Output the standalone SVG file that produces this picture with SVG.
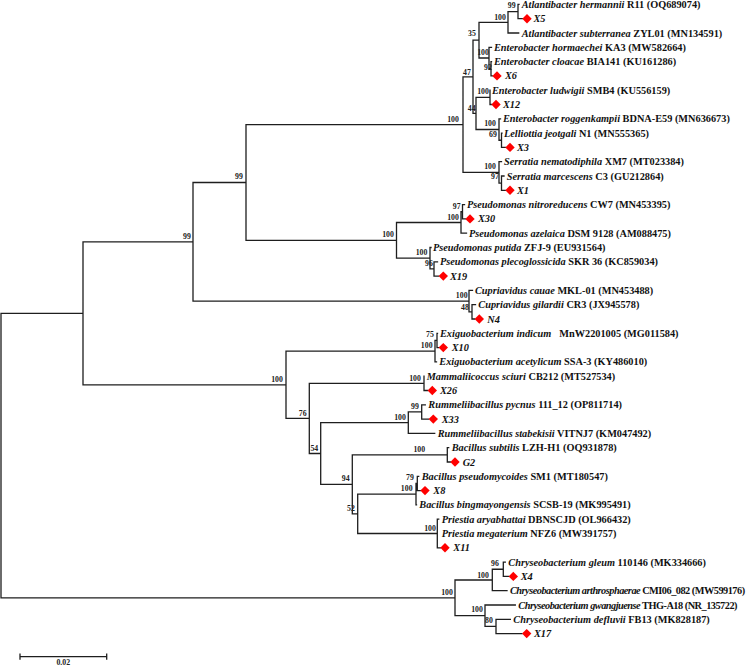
<svg xmlns="http://www.w3.org/2000/svg" xmlns:xlink="http://www.w3.org/1999/xlink" width="748" height="666" viewBox="0 0 748 666">
<style>
.br{fill:none;stroke:#1e1e1e;stroke-width:1.3;stroke-linecap:square}
.lf{font-family:"Liberation Serif","Times New Roman",serif;font-size:10.3px;font-weight:bold;fill:#111}
.sp{font-style:italic}
.xs{font-style:italic}
.nw{letter-spacing:-0.5px}
.bs{font-family:"Liberation Serif","Times New Roman",serif;font-size:7.8px;font-weight:bold;text-anchor:middle;fill:#222}
.dm{fill:#ff0000}
</style>
<defs>
<path id="dm" d="M0,-4.7L4.7,0L0,4.7L-4.7,0Z"/>
</defs>
<rect width="748" height="666" fill="#fff"/>
<g id="connectors">
<path class="br" d="M1,313.3V597.85 M1,313.3H83 M1,597.85H455
M83,241.8V384.8 M83,241.8H193 M83,384.8H286
M193,182.5V301.1 M193,182.5H246 M193,301.1H469
M246,124.6V240.35 M246,124.6H463 M246,240.35H396.5
M463,76.8V172.4 M463,76.8H473 M463,172.4H499
M473,40.1V113.4 M473,40.1H479 M473,113.4H476
M479,22.3V58 M479,22.3H508 M479,58H489
M508,11.55V33 M508,11.55H518 M508,33H518.7
M518,4.4V18.7 M518,4.4H519 M518,18.7H522.3
M489,47.3V68.75 M489,47.3H491.5 M489,68.75H491
M491,61.6V75.9 M491,61.6H491.5 M491,75.9H492.3
M476,97.35V129.5 M476,97.35H490 M476,129.5H499
M490,90.2V104.5 M490,104.5H491.3
M499,118.8V140.25 M499,118.8H500.5 M499,140.25H501.5
M501.5,133.1V147.4 M501.5,133.1H502 M501.5,147.4H505.3
M499,161.7V183.15 M499,161.7H501.5 M499,183.15H501.5
M501.5,176V190.3 M501.5,176H504 M501.5,190.3H505.3
M396.5,222.5V258.2 M396.5,222.5H461 M396.5,258.2H430
M461,211.75V233.2 M461,211.75H462.5 M461,233.2H466.5
M462.5,204.6V218.9 M462.5,204.6H464.5 M462.5,218.9H465.3
M430,247.5V268.95 M430,247.5H431 M430,268.95H434
M434,261.8V276.1 M434,261.8H437.5 M434,276.1H438.6
M469,290.4V311.85 M469,290.4H472.5 M469,311.85H472
M472,304.7V319 M472,304.7H475.5 M472,319H474.6
M286,351.2V418.4 M286,351.2H435 M286,418.4H309.3
M435,340.45V361.9 M435,340.45H437 M435,361.9H436.5
M437,333.3V347.6 M437,333.3H437.5 M437,347.6H438.6
M309.3,383.35V453.5 M309.3,383.35H424 M309.3,453.5H320.7
M424,376.2V390.5 M424,390.5H427.6
M320.7,422.7V484.35 M320.7,422.7H408.3 M320.7,484.35H352.3
M408.3,411.95V433.4 M408.3,411.95H421.7 M408.3,433.4H434.7
M421.7,404.8V419.1 M421.7,404.8H425.3 M421.7,419.1H428.6
M352.3,454.85V513.85 M352.3,454.85H447.3 M352.3,513.85H357.7
M447.3,447.7V462 M447.3,447.7H448.7 M447.3,462H450.3
M357.7,494.2V533.5 M357.7,494.2H416 M357.7,533.5H437.3
M416,483.45V504.9 M416,483.45H417.3 M416,504.9H416.5
M417.3,476.3V490.6 M417.3,476.3H418.7 M417.3,490.6H420.3
M437.3,519.2V547.8 M437.3,519.2H438.7 M437.3,547.8H440.3
M455,580V615.7 M455,580H492.3 M455,615.7H485
M492.3,569.25V590.7 M492.3,569.25H503.3 M492.3,590.7H507
M503.3,562.1V576.4 M503.3,562.1H505.3 M503.3,576.4H508.6
M485,605V626.45 M485,605H515.3 M485,626.45H496
M496,619.3V633.6 M496,619.3H510.3 M496,633.6H522"/>
</g>
<g id="bootstrap">
<text class="bs" x="511.7" y="7.8">99</text>
<text class="bs" x="500" y="19.5">100</text>
<text class="bs" x="472" y="36.3">35</text>
<text class="bs" x="483" y="54.8">100</text>
<text class="bs" x="488" y="69.8">92</text>
<text class="bs" x="467" y="74.5">47</text>
<text class="bs" x="483" y="93.8">100</text>
<text class="bs" x="471.7" y="110.8">44</text>
<text class="bs" x="490" y="125.8">100</text>
<text class="bs" x="493" y="136.8">69</text>
<text class="bs" x="453" y="121.8">100</text>
<text class="bs" x="490" y="168.8">100</text>
<text class="bs" x="495" y="178.8">97</text>
<text class="bs" x="456.7" y="208.5">97</text>
<text class="bs" x="453" y="219.5">100</text>
<text class="bs" x="388" y="236.8">100</text>
<text class="bs" x="421.5" y="255.3">100</text>
<text class="bs" x="429" y="265.8">96</text>
<text class="bs" x="239" y="178.8">99</text>
<text class="bs" x="461.7" y="297.8">100</text>
<text class="bs" x="465" y="309.5">48</text>
<text class="bs" x="187" y="238.8">99</text>
<text class="bs" x="426.7" y="347.8">100</text>
<text class="bs" x="430" y="337.1">75</text>
<text class="bs" x="277" y="381.8">100</text>
<text class="bs" x="415" y="380.5">100</text>
<text class="bs" x="415" y="408.8">99</text>
<text class="bs" x="400" y="419.5">100</text>
<text class="bs" x="302.7" y="415.5">76</text>
<text class="bs" x="314.3" y="450.5">54</text>
<text class="bs" x="419.3" y="452.1">100</text>
<text class="bs" x="410" y="479.5">79</text>
<text class="bs" x="406.7" y="491.1">100</text>
<text class="bs" x="345.7" y="481.1">94</text>
<text class="bs" x="351" y="510.5">52</text>
<text class="bs" x="430" y="530.5">100</text>
<text class="bs" x="495" y="565.5">96</text>
<text class="bs" x="483" y="577.5">100</text>
<text class="bs" x="477" y="611.8">100</text>
<text class="bs" x="489" y="622.8">80</text>
<text class="bs" x="447" y="594.8">100</text>
</g>
<g id="leaf-OQ689074"><text class="lf" x="521.7" y="7.9"><tspan class="sp">Atlantibacter hermannii</tspan> R11 (OQ689074)</text></g>
<g id="leaf-X5"><use href="#dm" class="dm" x="527" y="18.7"/><text class="lf xs" x="533.5" y="22.2">X5</text></g>
<g id="leaf-MN134591"><text class="lf" x="521.7" y="36.5"><tspan class="sp">Atlantibacter subterranea</tspan> ZYL01 (MN134591)</text></g>
<g id="leaf-MW582664"><text class="lf" x="494" y="50.8"><tspan class="sp">Enterobacter hormaechei</tspan> KA3 (MW582664)</text></g>
<g id="leaf-KU161286"><text class="lf" x="494" y="65.1"><tspan class="sp">Enterobacter cloacae</tspan> BIA141 (KU161286)</text></g>
<g id="leaf-X6"><use href="#dm" class="dm" x="497" y="75.9"/><text class="lf xs" x="505" y="79.4">X6</text></g>
<g id="leaf-KU556159"><text class="lf" x="492" y="93.7"><tspan class="sp">Enterobacter ludwigii</tspan> SMB4 (KU556159)</text></g>
<g id="leaf-X12"><use href="#dm" class="dm" x="496" y="104.5"/><text class="lf xs" x="503" y="108">X12</text></g>
<g id="leaf-MN636673"><text class="lf" x="503" y="122.3"><tspan class="sp">Enterobacter roggenkampii</tspan> BDNA-E59 (MN636673)</text></g>
<g id="leaf-MN555365"><text class="lf" x="504" y="136.6"><tspan class="sp">Lelliottia jeotgali</tspan> N1 (MN555365)</text></g>
<g id="leaf-X3"><use href="#dm" class="dm" x="510" y="147.4"/><text class="lf xs" x="517" y="150.9">X3</text></g>
<g id="leaf-MT023384"><text class="lf" x="504" y="165.2"><tspan class="sp">Serratia nematodiphila</tspan> XM7 (MT023384)</text></g>
<g id="leaf-GU212864"><text class="lf" x="506.7" y="179.5"><tspan class="sp">Serratia marcescens</tspan> C3 (GU212864)</text></g>
<g id="leaf-X1"><use href="#dm" class="dm" x="510" y="190.3"/><text class="lf xs" x="517" y="193.8">X1</text></g>
<g id="leaf-MN453395"><text class="lf" x="467" y="208.1"><tspan class="sp">Pseudomonas nitroreducens</tspan> CW7 (MN453395)</text></g>
<g id="leaf-X30"><use href="#dm" class="dm" x="470" y="218.9"/><text class="lf xs" x="478" y="222.4">X30</text></g>
<g id="leaf-AM088475"><text class="lf" x="469" y="236.7"><tspan class="sp">Pseudomonas azelaica</tspan> DSM 9128 (AM088475)</text></g>
<g id="leaf-EU931564"><text class="lf" x="433" y="251"><tspan class="sp">Pseudomonas putida</tspan> ZFJ-9 (EU931564)</text></g>
<g id="leaf-KC859034"><text class="lf" x="440" y="265.3"><tspan class="sp">Pseudomonas plecoglossicida</tspan> SKR 36 (KC859034)</text></g>
<g id="leaf-X19"><use href="#dm" class="dm" x="443.3" y="276.1"/><text class="lf xs" x="450" y="279.6">X19</text></g>
<g id="leaf-MN453488"><text class="lf" x="475" y="293.9"><tspan class="sp">Cupriavidus cauae</tspan> MKL-01 (MN453488)</text></g>
<g id="leaf-JX945578"><text class="lf" x="478.3" y="308.2"><tspan class="sp">Cupriavidus gilardii</tspan> CR3 (JX945578)</text></g>
<g id="leaf-N4"><use href="#dm" class="dm" x="479.3" y="319"/><text class="lf xs" x="487.3" y="322.5">N4</text></g>
<g id="leaf-MG011584"><text class="lf" x="440" y="336.8"><tspan class="sp">Exiguobacterium indicum</tspan><tspan dx="8">MnW2201005 (MG011584)</tspan></text></g>
<g id="leaf-X10"><use href="#dm" class="dm" x="443.3" y="347.6"/><text class="lf xs" x="451.7" y="351.1">X10</text></g>
<g id="leaf-KY486010"><text class="lf" x="439.3" y="365.4"><tspan class="sp">Exiguobacterium acetylicum</tspan> SSA-3 (KY486010)</text></g>
<g id="leaf-MT527534"><text class="lf" x="426.7" y="379.7"><tspan class="sp">Mammaliicoccus sciuri</tspan> CB212 (MT527534)</text></g>
<g id="leaf-X26"><use href="#dm" class="dm" x="432.3" y="390.5"/><text class="lf xs" x="440" y="394">X26</text></g>
<g id="leaf-OP811714"><text class="lf" x="428.3" y="408.3"><tspan class="sp">Rummeliibacillus pycnus</tspan> 111_12 (OP811714)</text></g>
<g id="leaf-X33"><use href="#dm" class="dm" x="433.3" y="419.1"/><text class="lf xs" x="441.7" y="422.6">X33</text></g>
<g id="leaf-KM047492"><text class="lf" x="437.7" y="436.9"><tspan class="sp">Rummeliibacillus stabekisii</tspan> VITNJ7 (KM047492)</text></g>
<g id="leaf-OQ931878"><text class="lf" x="451.7" y="451.2"><tspan class="sp">Bacillus subtilis</tspan> LZH-H1 (OQ931878)</text></g>
<g id="leaf-G2"><use href="#dm" class="dm" x="455" y="462"/><text class="lf xs" x="462.7" y="465.5">G2</text></g>
<g id="leaf-MT180547"><text class="lf" x="421.7" y="479.8"><tspan class="sp">Bacillus pseudomycoides</tspan> SM1 (MT180547)</text></g>
<g id="leaf-X8"><use href="#dm" class="dm" x="425" y="490.6"/><text class="lf xs" x="433.3" y="494.1">X8</text></g>
<g id="leaf-MK995491"><text class="lf" x="419.3" y="508.4"><tspan class="sp">Bacillus bingmayongensis</tspan> SCSB-19 (MK995491)</text></g>
<g id="leaf-OL966432"><text class="lf" x="441.7" y="522.7"><tspan class="sp">Priestia aryabhattai</tspan> DBNSCJD (OL966432)</text></g>
<g id="leaf-MW391757"><text class="lf" x="441.7" y="537"><tspan class="sp">Priestia megaterium</tspan> NFZ6 (MW391757)</text></g>
<g id="leaf-X11"><use href="#dm" class="dm" x="445" y="547.8"/><text class="lf xs" x="453.3" y="551.3">X11</text></g>
<g id="leaf-MK334666"><text class="lf" x="508.3" y="565.6"><tspan class="sp">Chryseobacterium gleum</tspan> 110146 (MK334666)</text></g>
<g id="leaf-X4"><use href="#dm" class="dm" x="513.3" y="576.4"/><text class="lf xs" x="520.7" y="579.9">X4</text></g>
<g id="leaf-MW599176"><text class="lf nw" x="510" y="594.2"><tspan class="sp">Chryseobacterium arthrosphaerae</tspan> CMI06_082 (MW599176)</text></g>
<g id="leaf-NR_135722"><text class="lf nw" x="518.3" y="608.5"><tspan class="sp">Chryseobacterium gwangjuense</tspan> THG-A18 (NR_135722)</text></g>
<g id="leaf-MK828187"><text class="lf" x="513.3" y="622.8"><tspan class="sp">Chryseobacterium defluvii</tspan> FB13 (MK828187)</text></g>
<g id="leaf-X17"><use href="#dm" class="dm" x="526.7" y="633.6"/><text class="lf xs" x="534" y="637.1">X17</text></g>
<g id="scale-bar">
<path class="br" d="M20,656.7H106.7 M20,654.2V659.2 M106.7,654.2V659.2"/>
<text class="bs" x="63.3" y="665">0.02</text>
</g>
</svg>
